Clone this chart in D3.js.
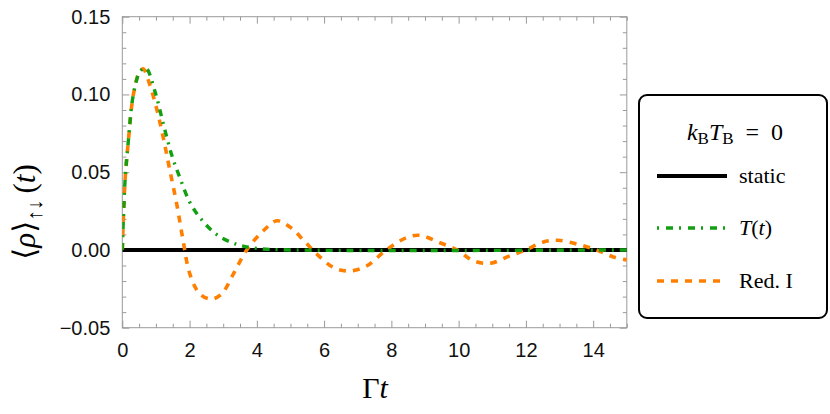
<!DOCTYPE html>
<html>
<head>
<meta charset="utf-8">
<script src="https://cdn.jsdelivr.net/npm/d3@7"></script>
<style>
  body { margin: 0; background: #fff; }
  .tick text { font-family: "Liberation Sans", Arial, sans-serif; font-size: 20px; fill: #111; }
  .frame path, .frame line { stroke: #9a9a9a; }
</style>
</head>
<body>
<div id="chart"></div>
<script>
// values
var xMajor = [0, 2, 4, 6, 8, 10, 12, 14];
var yMajor = [-0.05, 0, 0.05, 0.10, 0.15];

var staticT = [0, 15];
var staticVals = [0, 0];

var tT = [0, 0.08, 0.18, 0.33, 0.53, 0.7, 0.97, 1.22, 1.47, 1.72, 2.0, 2.3, 2.8, 3.4, 4.0, 5.0, 15];
var tVals = [0, 0.044, 0.070, 0.100, 0.1147, 0.117, 0.102, 0.081, 0.061, 0.046, 0.031, 0.021, 0.010, 0.0036, 0.001, 0, 0];

var redT = [0, 0.08, 0.18, 0.33, 0.5, 0.62, 0.82, 1.02, 1.22, 1.42, 1.62, 1.81, 2.01, 2.31, 2.65, 2.95, 3.3, 3.7,
            4.2, 4.6, 5.0, 5.4, 5.8, 6.3, 6.75, 7.25, 7.85, 8.45, 8.85, 9.4, 9.95, 10.45, 10.95, 11.5, 12.0, 12.5,
            12.95, 13.55, 14.1, 14.6, 15];
var redVals = [0, 0.044, 0.070, 0.100, 0.114, 0.1165, 0.106, 0.091, 0.072, 0.0506, 0.0293, 0.0058, -0.0156, -0.0284,
               -0.0316, -0.0284, -0.0156, 0, 0.0125, 0.0188, 0.0145, 0.006, -0.003, -0.0115, -0.0135, -0.0105, 0,
               0.0079, 0.0094, 0.005, 0, -0.0071, -0.0085, -0.004, 0, 0.005, 0.0062, 0.0036, 0, -0.0045, -0.0064];

var legendLabels = ["static", "T(t)", "Red. I"];

var margin = { top: 16.7, left: 122.3 },
    width = 504.5,
    height = 311;

var svg = d3.select("#chart").append("svg")
    .attr("width", 830)
    .attr("height", 414);

var g = svg.append("g")
    .attr("transform", "translate(" + margin.left + "," + margin.top + ")");

var xScale = d3.scaleLinear().domain([0, 15]).range([0, width]);
var yScale = d3.scaleLinear().domain([-0.05, 0.15]).range([height, 0]);

var xMinor = d3.range(0, 15.01, 0.5).filter(function (d) { return d % 2 !== 0; });
var yMinor = d3.range(-5, 16, 1).map(function (d) { return d / 100; }).filter(function (d) { return Math.round(d * 100) % 5 !== 0; });

// frame
g.append("rect")
    .attr("width", width)
    .attr("height", height)
    .attr("fill", "none")
    .attr("stroke", "#9a9a9a")
    .attr("stroke-width", 1);

function frameAxis(axis, tr) {
    var a = g.append("g").attr("class", "frame").attr("transform", tr).call(axis);
    a.select(".domain").remove();
    return a;
}

// major ticks with labels
frameAxis(d3.axisBottom(xScale).tickValues(xMajor).tickSize(-7).tickPadding(15).tickFormat(d3.format("d")),
    "translate(0," + height + ")");
frameAxis(d3.axisLeft(yScale).tickValues(yMajor).tickSize(-7).tickPadding(12).tickFormat(d3.format(".2f")), "");
// mirrored ticks
frameAxis(d3.axisTop(xScale).tickValues(xMajor).tickSize(-7).tickFormat(""), "");
frameAxis(d3.axisRight(yScale).tickValues(yMajor).tickSize(-7).tickFormat(""), "translate(" + width + ",0)");
// minor ticks
frameAxis(d3.axisBottom(xScale).tickValues(xMinor).tickSize(-4).tickFormat(""), "translate(0," + height + ")");
frameAxis(d3.axisTop(xScale).tickValues(xMinor).tickSize(-4).tickFormat(""), "");
frameAxis(d3.axisLeft(yScale).tickValues(yMinor).tickSize(-4).tickFormat(""), "");
frameAxis(d3.axisRight(yScale).tickValues(yMinor).tickSize(-4).tickFormat(""), "translate(" + width + ",0)");

var line = d3.line()
    .x(function (d) { return xScale(d[0]); })
    .y(function (d) { return yScale(d[1]); })
    .curve(d3.curveCatmullRom.alpha(0.5));

function zip(a, b) { return a.map(function (d, i) { return [d, b[i]]; }); }

g.append("clipPath").attr("id", "clip").append("rect")
    .attr("width", width).attr("height", height);

var plot = g.append("g").attr("clip-path", "url(#clip)");

plot.append("path")
    .datum(zip(staticT, staticVals))
    .attr("d", line)
    .attr("fill", "none")
    .attr("stroke", "#000")
    .attr("stroke-width", 4);

plot.append("path")
    .datum(zip(redT, redVals))
    .attr("d", line)
    .attr("fill", "none")
    .attr("stroke", "#ff8000")
    .attr("stroke-width", 3.6)
    .attr("stroke-dasharray", "7,7");

plot.append("path")
    .datum(zip(tT, tVals))
    .attr("d", line)
    .attr("fill", "none")
    .attr("stroke", "#12a012")
    .attr("stroke-width", 3.4)
    .attr("stroke-dasharray", "7,6,2,6");

// axis titles
var serif = "'Liberation Serif', 'DejaVu Serif', serif";
var xl = svg.append("text")
    .attr("x", 375)
    .attr("y", 398)
    .attr("text-anchor", "middle")
    .style("font-family", serif)
    .style("font-size", "30px");
xl.append("tspan").text("Γ");
xl.append("tspan").style("font-style", "italic").text("t");

var yl = svg.append("text")
    .attr("transform", "translate(35,212) rotate(-90)")
    .attr("text-anchor", "middle")
    .style("font-family", serif)
    .style("font-size", "31px");
yl.append("tspan").text("⟨");
yl.append("tspan").style("font-style", "italic").text("ρ");
yl.append("tspan").text("⟩");
yl.append("tspan").attr("dy", 7).style("font-size", "21px").text("↑↓");
yl.append("tspan").attr("dy", -7).text("\u2009(");
yl.append("tspan").style("font-style", "italic").text("t");
yl.append("tspan").text(")");

// legend
var lg = svg.append("g").attr("transform", "translate(639,95)");
lg.append("rect")
    .attr("width", 188)
    .attr("height", 223)
    .attr("rx", 8)
    .attr("fill", "#fff")
    .attr("stroke", "#000")
    .attr("stroke-width", 2);

var title = lg.append("text")
    .attr("x", 96)
    .attr("y", 45)
    .attr("text-anchor", "middle")
    .style("font-family", serif)
    .style("font-size", "24px");
title.append("tspan").style("font-style", "italic").text("k");
title.append("tspan").attr("dy", 4).style("font-size", "17px").text("B");
title.append("tspan").attr("dy", -4).style("font-style", "italic").text("T");
title.append("tspan").attr("dy", 4).style("font-size", "17px").text("B");
title.append("tspan").attr("dy", -4).text("\u2002=\u20020");

var legendStyles = [
    { color: "#000", width: 4, dash: null },
    { color: "#12a012", width: 3.4, dash: "2,7,7,6" },
    { color: "#ff8000", width: 3.6, dash: "7,7" }
];
var legendY = [81, 133, 186];

legendLabels.forEach(function (lab, i) {
    var s = legendStyles[i];
    lg.append("line")
        .attr("x1", 18).attr("x2", 88)
        .attr("y1", legendY[i]).attr("y2", legendY[i])
        .attr("stroke", s.color)
        .attr("stroke-width", s.width)
        .attr("stroke-dasharray", s.dash);
    var t = lg.append("text")
        .attr("x", 100)
        .attr("y", legendY[i] + 7)
        .style("font-family", serif)
        .style("font-size", "22px");
    if (lab === "T(t)") {
        t.append("tspan").style("font-style", "italic").text("T");
        t.append("tspan").text("(");
        t.append("tspan").style("font-style", "italic").text("t");
        t.append("tspan").text(")");
    } else {
        t.text(lab);
    }
});
</script>
</body>
</html>
